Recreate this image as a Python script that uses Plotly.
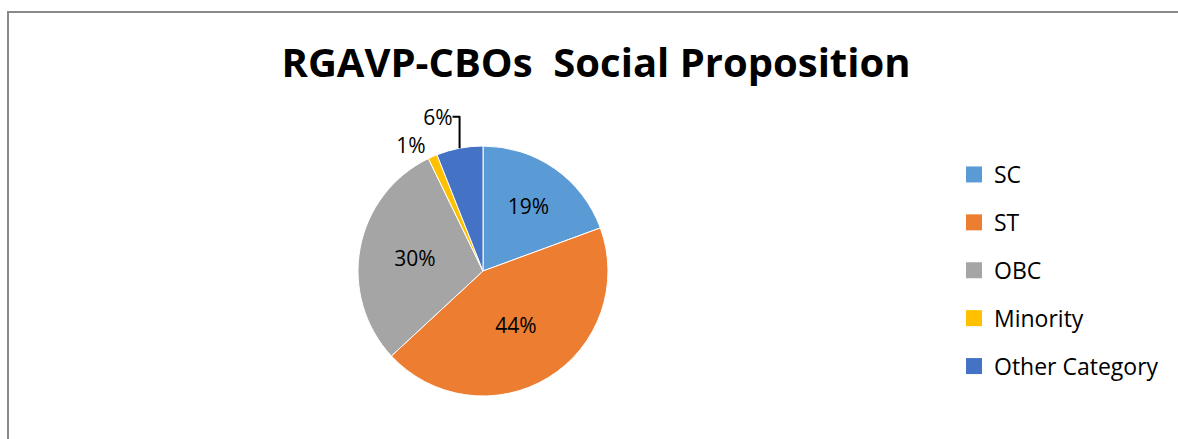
import plotly.graph_objects as go

categories = ["SC", "ST", "OBC", "Minority", "Other Category"]
values = [19.4, 43.7, 29.7, 1.2, 6.0]
colors = ["#5B9BD5", "#ED7D31", "#A5A5A5", "#FFC000", "#4472C4"]
label_positions = ["inside", "inside", "inside", "outside", "outside"]
title_text = "RGAVP-CBOs\u00a0 Social Proposition"

W, H = 1178, 439
FONT = "Open Sans"

fig = go.Figure()
fig.add_trace(go.Pie(
    labels=categories,
    values=values,
    sort=False,
    direction="clockwise",
    rotation=0,
    marker=dict(colors=colors, line=dict(color="white", width=1)),
    texttemplate="%{percent:.0%}",
    textposition=label_positions,
    insidetextorientation="horizontal",
    textfont=dict(family=FONT, size=21, color="black"),
    outsidetextfont=dict(family=FONT, size=21, color="black"),
    showlegend=False,
    domain=dict(x=[(483 - 125) / W, (483 + 125) / W], y=[(H - 396) / H, (H - 146) / H]),
    hoverinfo="label+percent",
))

for cat, col in zip(categories, colors):
    fig.add_trace(go.Scatter(
        x=[None], y=[None], mode="markers",
        marker=dict(symbol="square", size=16, color=col),
        name=cat, legendgroup=cat, showlegend=True,
    ))

fig.update_layout(
    width=W, height=H,
    margin=dict(l=0, r=0, t=0, b=0),
    paper_bgcolor="white", plot_bgcolor="white",
    xaxis=dict(visible=False), yaxis=dict(visible=False),
    title=dict(text=title_text, x=596 / W, xanchor="center", y=1 - 63 / H, yanchor="middle",
               font=dict(family=FONT, size=40, color="black", weight="bold")),
    legend=dict(x=954 / W, xanchor="left", y=1 - 153 / H, yanchor="top",
                font=dict(family=FONT, size=23, color="black"),
                tracegroupgap=15, itemsizing="trace", bgcolor="rgba(0,0,0,0)"),
    shapes=[
        dict(type="line", xref="paper", yref="paper", x0=8 / W, x1=8 / W, y0=-0.05, y1=1 - 11 / H,
             line=dict(color="#898989", width=2)),
        dict(type="line", xref="paper", yref="paper", x0=7 / W, x1=1.05, y0=1 - 12 / H, y1=1 - 12 / H,
             line=dict(color="#898989", width=2)),
    ],
)

fig.write_html("out.html", config={"displayModeBar": False},
               post_script="document.body.style.margin='0';document.body.style.overflow='hidden';")
